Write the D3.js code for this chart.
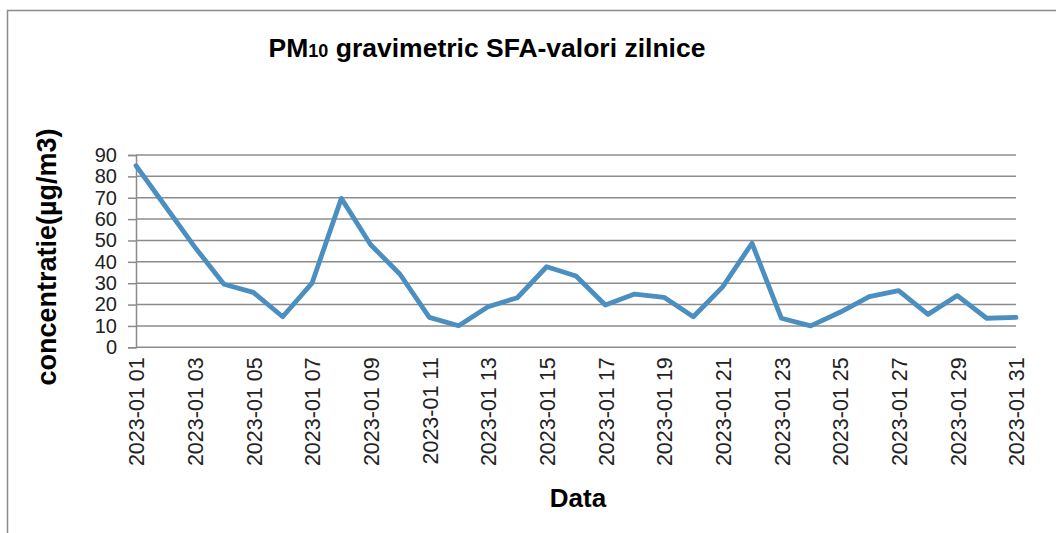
<!DOCTYPE html>
<html><head><meta charset="utf-8">
<script src="https://cdn.jsdelivr.net/npm/d3@7"></script>
<style>
html,body{margin:0;padding:0;background:#fff;}
svg{display:block;font-family:"Liberation Sans",Arial,sans-serif;}
</style></head>
<body>
<svg id="chart" width="1056" height="533"></svg>
<script>
// ---- data ----
const dates = ["2023-01 01","2023-01 02","2023-01 03","2023-01 04","2023-01 05","2023-01 06","2023-01 07","2023-01 08","2023-01 09","2023-01 10","2023-01 11","2023-01 12","2023-01 13","2023-01 14","2023-01 15","2023-01 16","2023-01 17","2023-01 18","2023-01 19","2023-01 20","2023-01 21","2023-01 22","2023-01 23","2023-01 24","2023-01 25","2023-01 26","2023-01 27","2023-01 28","2023-01 29","2023-01 30","2023-01 31"];
const pm10 = [85,66,47,29.5,25.7,14.3,30,69.7,48,34.2,14,10.1,19,23.2,37.7,33.4,19.8,24.9,23.4,14.3,28.3,48.7,13.6,10,16.4,23.7,26.5,15.4,24.2,13.6,14];
const xTickLabels = dates.filter((d,i)=>i%2===0);
const yTicks = [0,10,20,30,40,50,60,70,80,90];
const titleMain = "PM";
const titleSub = "10";
const titleRest = " gravimetric SFA-valori zilnice";
const yTitle = "concentratie(µg/m3)";
const xTitle = "Data";

// ---- layout ----
const svg = d3.select("#chart");
const pLeft = 136, pRight = 1016, pTop = 155, pBottom = 347.3;

// frame
svg.append("rect").attr("x",7.5).attr("y",10.5).attr("width",1100).attr("height",600)
  .attr("fill","none").attr("stroke","#8a8a8a").attr("stroke-width",1.5);

const x = d3.scalePoint().domain(dates).range([pLeft,pRight]);
const y = d3.scaleLinear().domain([0,90]).range([pBottom,pTop]);

// gridlines
svg.append("g").selectAll("line").data(yTicks).join("line")
  .attr("x1",pLeft).attr("x2",pRight)
  .attr("y1",d=>y(d)).attr("y2",d=>y(d))
  .attr("stroke","#8c8c8c").attr("stroke-width",1.5);

// y axis
const yAxis = svg.append("g").attr("transform",`translate(${pLeft},0)`)
  .call(d3.axisLeft(y).tickValues(yTicks).tickSize(8).tickPadding(11));
yAxis.select(".domain").attr("stroke","#8c8c8c").attr("stroke-width",1.5);
yAxis.selectAll(".tick line").attr("stroke","#8c8c8c").attr("stroke-width",1.5);
yAxis.selectAll("text").attr("font-size","20px").attr("fill","#222")
  .attr("font-family","'Liberation Sans',Arial,sans-serif");

// x axis (labels only)
const xAxis = svg.append("g").attr("transform",`translate(0,${pBottom})`)
  .call(d3.axisBottom(x).tickValues(xTickLabels).tickSize(0).tickPadding(0));
xAxis.select(".domain").remove();
xAxis.selectAll("text")
  .attr("font-size","21.5px").attr("fill","#222")
  .attr("font-family","'Liberation Sans',Arial,sans-serif")
  .attr("text-anchor","end")
  .attr("transform","translate(0,10) rotate(-90)")
  .attr("x",0).attr("y",0).attr("dy","0.36em");

// line
svg.append("path").datum(pm10)
  .attr("fill","none").attr("stroke","#4a8fc0").attr("stroke-width",4.8)
  .attr("stroke-linejoin","round").attr("stroke-linecap","round")
  .attr("d", d3.line().x((d,i)=>x(dates[i])).y(d=>y(d)));

// title
const t = svg.append("text").attr("x",487).attr("y",57).attr("text-anchor","middle")
  .attr("font-weight","bold").attr("font-size","26.5px").attr("fill","#000");
t.append("tspan").text(titleMain);
t.append("tspan").attr("font-size","18px").text(titleSub);
t.append("tspan").text(titleRest);

// axis titles
svg.append("text").attr("transform","translate(56,257) rotate(-90)")
  .attr("text-anchor","middle").attr("font-weight","bold").attr("font-size","27px")
  .attr("fill","#000").text(yTitle);
svg.append("text").attr("x",578).attr("y",507).attr("text-anchor","middle")
  .attr("font-weight","bold").attr("font-size","26px").attr("fill","#000").text(xTitle);
</script>
</body></html>
